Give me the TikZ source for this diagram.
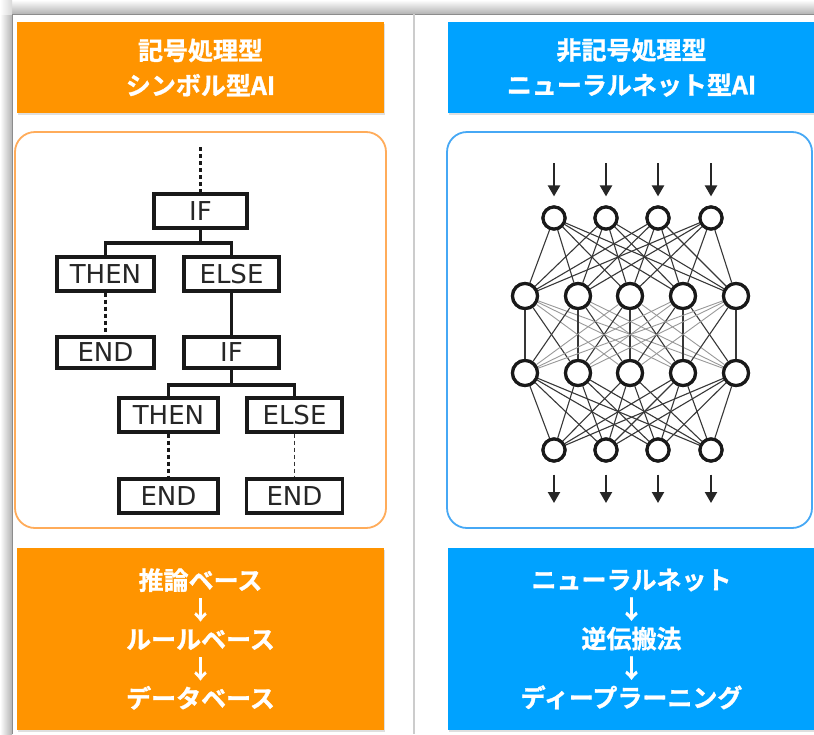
\documentclass[tikz,border=0pt]{standalone}
\usepackage{fontspec}
\newfontfamily\jpfont{Noto Sans CJK JP}[BoldFont={Noto Sans CJK JP Bold},BoldFeatures={FakeBold=1.2}]
\newfontfamily\treefont{DejaVu Sans}
\usetikzlibrary{arrows.meta,shadows}
\definecolor{aiorange}{RGB}{255,148,0}
\definecolor{aiblue}{RGB}{0,162,255}
\definecolor{orangeline}{RGB}{255,172,90}
\definecolor{blueline}{RGB}{70,168,245}
\begin{document}
\begin{tikzpicture}[x=1pt,y=-1pt,
  hdrbox/.style={fill=#1, inner sep=0pt, text=white, align=center,
    drop shadow={opacity=0.25,shadow xshift=1pt,shadow yshift=-2pt},
    font=\jpfont\bfseries\fontsize{25}{35}\selectfont},
  tbox/.style={draw=black!90, line width=3.2pt, inner sep=0pt, text=black!85,
    font=\treefont\fontsize{26}{26}\selectfont},
  tline/.style={draw=black!90, line width=3.2pt},
  tdots/.style={draw=black!90, line width=3.4pt, dash pattern=on 4pt off 3pt},
  tdash/.style={draw=black!80, line width=1.6pt, dash pattern=on 4pt off 3pt},
  neuron/.style={circle, draw=black!90, line width=3.2pt, fill=white, inner sep=0pt, minimum size=#1},
  nnline/.style={draw=black!78, line width=1.1pt},
  nnfaint/.style={draw=black!40, line width=0.9pt},
  nnarrow/.style={draw=black!85, line width=2.2pt, -{Triangle[length=11pt,width=12pt]}}
]
\useasboundingbox (0,0) rectangle (814,734);
\fill[white] (0,0) rectangle (814,734);
% page shadow
\shade[left color=white, right color=black!30] (0,14) rectangle (12,734);
\shade[top color=white, bottom color=black!30] (12,0) rectangle (814,14);
\shade[left color=white, right color=black!15] (0,0) rectangle (12,14);
\fill[white] (12,14) rectangle (814,734);
\draw[black!45, line width=0.8pt] (12,734) -- (12,14) -- (814,14);
% divider
\draw[black!20, line width=1.5pt] (414,14) -- (414,734);

% headers
\node[hdrbox=aiorange, minimum width=367pt, minimum height=91pt] (lh) at (200.5,67.5) {記号処理型\\シンボル型AI};
\node[hdrbox=aiblue, minimum width=367pt, minimum height=91pt] (rh) at (631.5,67.5) {非記号処理型\\ニューラルネット型AI};

% bottom boxes
\node[hdrbox=aiorange, minimum width=367pt, minimum height=182pt,
  font=\jpfont\bfseries\fontsize{25}{29.5}\selectfont] (lb) at (200.5,639)
  {推論ベース\\↓\\ルールベース\\↓\\データベース};
\node[hdrbox=aiblue, minimum width=367pt, minimum height=182pt,
  font=\jpfont\bfseries\fontsize{25}{29.5}\selectfont] (rb) at (631.5,639)
  {ニューラルネット\\↓\\逆伝搬法\\↓\\ディープラーニング};

% panels
\draw[orangeline, line width=1.8pt, fill=white, rounded corners=20pt] (15,132) rectangle (386,528);
\draw[blueline, line width=1.8pt, fill=white, rounded corners=20pt] (447,132) rectangle (812,528);

% ---- decision tree ----
\node[tbox, minimum width=93pt, minimum height=34pt] (if1) at (200.5,211) {IF};
\node[tbox, minimum width=97pt, minimum height=34pt] (then1) at (105.5,274) {THEN};
\node[tbox, minimum width=95pt, minimum height=34pt] (else1) at (231.5,274) {ELSE};
\node[tbox, minimum width=97pt, minimum height=31pt] (end1) at (105.5,352.5) {END};
\node[tbox, minimum width=95pt, minimum height=31pt] (if2) at (231.5,352.5) {IF};
\node[tbox, minimum width=99pt, minimum height=34pt] (then2) at (168.5,415) {THEN};
\node[tbox, minimum width=95pt, minimum height=34pt] (else2) at (294.5,415) {ELSE};
\node[tbox, minimum width=99pt, minimum height=34pt] (end2) at (168.5,496) {END};
\node[tbox, minimum width=96pt, minimum height=34pt] (end3) at (294.5,496) {END};

\coordinate (top) at (200.5,147);
\coordinate (b1) at (200.5,243);
\coordinate (b2) at (231.5,385);
\draw[tdots] (top) -- (if1.north);
\draw[tline] (if1.south) -- (b1);
\draw[tline] (b1) -| (then1.north);
\draw[tline] (b1) -| (else1.north);
\draw[tdots] (then1.south) -- (end1.north);
\draw[tline] (else1.south) -- (if2.north);
\draw[tline] (if2.south) -- (b2);
\draw[tline] (b2) -| (then2.north);
\draw[tline] (b2) -| (else2.north);
\draw[tdots] (then2.south) -- (end2.north);
\draw[tdash] (else2.south) -- (end3.north);

% ---- neural network ----
\foreach \i/\x in {1/554,2/606,3/658,4/711} {
  \node[neuron=22pt] (t\i) at (\x,218) {};
  \node[neuron=22pt] (o\i) at (\x,450) {};
  \coordinate (ia\i) at (\x,163);
  \coordinate (oa\i) at (\x,503);
}
\foreach \j/\x in {1/525,2/578,3/630,4/683,5/736} {
  \node[neuron=25pt] (h\j) at (\x,296) {};
  \node[neuron=25pt] (g\j) at (\x,373) {};
}
\foreach \i in {1,...,4} {
  \foreach \j in {1,...,5} {
    \draw[nnline] (t\i) -- (h\j);
    \draw[nnline] (g\j) -- (o\i);
  }
}
\foreach \i in {1,...,5} {
  \foreach \j in {1,...,5} {
    \pgfmathtruncatemacro{\d}{abs(\i-\j)}
    \ifnum\d<2
      \draw[nnline] (h\i) -- (g\j);
    \else
      \draw[nnfaint] (h\i) -- (g\j);
    \fi
  }
}
% redraw neurons on top
\foreach \i/\x in {1/554,2/606,3/658,4/711} {
  \node[neuron=22pt] at (\x,218) {};
  \node[neuron=22pt] at (\x,450) {};
}
\foreach \j/\x in {1/525,2/578,3/630,4/683,5/736} {
  \node[neuron=25pt] at (\x,296) {};
  \node[neuron=25pt] at (\x,373) {};
}
\foreach \i in {1,...,4} {
  \draw[nnarrow, shorten >=9pt] (ia\i) -- (t\i.north);
  \draw[nnarrow, shorten <=12pt] (o\i.south) -- (oa\i);
}
\end{tikzpicture}
\end{document}
